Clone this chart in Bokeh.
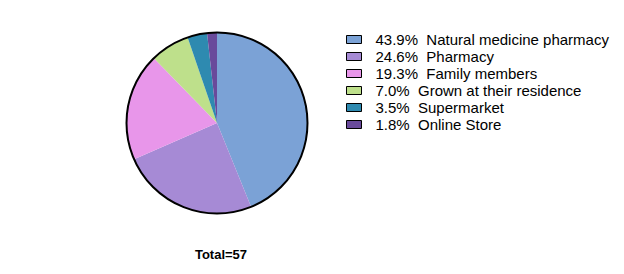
import math
from bokeh.plotting import figure
from bokeh.models import Range1d, ColumnDataSource
from bokeh.core.properties import value
from bokeh.embed import file_html
from bokeh.resources import INLINE

# Where respondents obtain their medicinal plants (n = 57)
sources = ["Natural medicine pharmacy", "Pharmacy", "Family members",
           "Grown at their residence", "Supermarket", "Online Store"]
counts = [25, 14, 11, 4, 2, 1]
colors = ["#7BA2D6", "#A68AD5", "#E896EA", "#BEE08B", "#2E8AB0", "#694A9B"]

W, H = 624, 274
total = sum(counts)
percents = [100.0 * c / total for c in counts]

p = figure(width=W, height=H, output_backend="svg", toolbar_location=None,
           x_range=Range1d(0, W), y_range=Range1d(0, H), min_border=0)
p.axis.visible = False
p.grid.visible = False
p.outline_line_color = None
p.background_fill_color = "white"

# Pie, starting at 12 o'clock and running clockwise
cx, cy, r = 216.5, H - 122.5, 90.5
starts, ends = [], []
a = math.pi / 2
for c in counts:
    starts.append(a)
    a -= 2 * math.pi * c / total
    ends.append(a)
pie = ColumnDataSource(dict(start=starts, end=ends, color=colors))
p.wedge(x=cx, y=cy, radius=r, radius_units="screen", start_angle="start",
        end_angle="end", direction="clock", fill_color="color",
        line_color=None, source=pie)
p.scatter(x=[cx], y=[cy], size=2 * r, fill_color=None, line_color="black",
          line_width=2)

# Legend (non-breaking spaces keep the wide gap after the percentage)
row_y = [H - (39 + 17 * i) for i in range(len(sources))]
labels = [f"{pc:.1f}%\u00a0\u00a0{s}" for pc, s in zip(percents, sources)]
leg = ColumnDataSource(dict(y=row_y, color=colors, label=labels))
p.rect(x=353.5, y="y", width=15, height=8, width_units="screen",
       height_units="screen", fill_color="color", line_color="black",
       line_width=1, source=leg)
p.text(x=375, y="y", text="label", text_font=value("Liberation Sans"),
       text_font_size="15px", text_baseline="middle", text_color="black",
       source=leg)

p.text(x=[220.5], y=[H - 254], text=[f"Total={total}"],
       text_font=value("Liberation Sans"), text_font_size="13px",
       text_font_style="bold", text_align="center", text_baseline="middle",
       text_color="black")

open("out.html", "w").write(file_html(p, INLINE))
